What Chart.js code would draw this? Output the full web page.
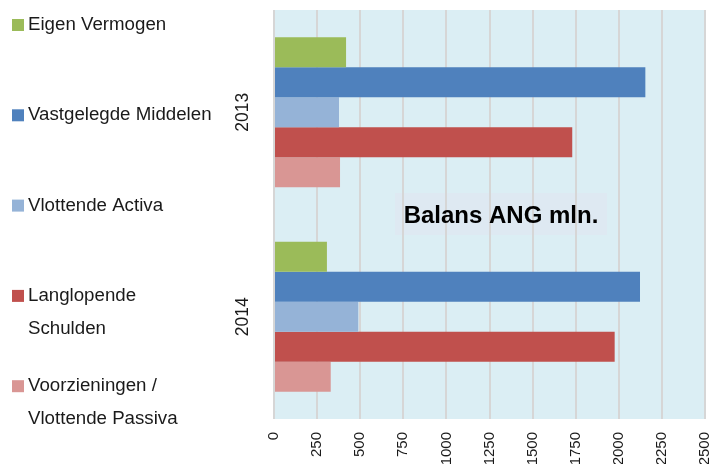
<!DOCTYPE html>
<html>
<head>
<meta charset="utf-8">
<script src="https://cdn.jsdelivr.net/npm/chart.js@4.4.0/dist/chart.umd.min.js"></script>
<style>
  html, body { margin: 0; padding: 0; background: #ffffff; }
  #balansChart { display: block; }
</style>
</head>
<body>
<canvas id="balansChart" width="713" height="464"></canvas>
<script>
const years = ['2013', '2014'];
const seriesNames = ['Eigen Vermogen', 'Vastgelegde Middelen', 'Vlottende Activa', 'Langlopende Schulden', 'Voorzieningen / Vlottende Passiva'];
const legendLines = [['Eigen Vermogen'], ['Vastgelegde Middelen'], ['Vlottende Activa'], ['Langlopende', 'Schulden'], ['Voorzieningen /', 'Vlottende Passiva']];
const eigenVermogen = [418, 307];
const vastgelegdeMiddelen = [2154, 2123];
const vlottendeActiva = [377, 489];
const langlopendeSchulden = [1730, 1976];
const voorzieningen = [383, 329];
const xMin = 0;
const xMax = 2500;
const xStep = 250;
const chartTitle = 'Balans ANG mln.';
const seriesColors = ['#9bbb59', '#4f81bd', '#95b3d7', '#c0504d', '#d99694'];

const seriesValues = [eigenVermogen, vastgelegdeMiddelen, vlottendeActiva, langlopendeSchulden, voorzieningen];
const fontFamily = '"Liberation Sans", Arial, sans-serif';

// plot background + title box behind the bars
const plotBackground = {
  id: 'plotBackground',
  beforeDraw(chart) {
    const { ctx, chartArea } = chart;
    ctx.save();
    ctx.fillStyle = '#dbeef4';
    ctx.fillRect(chartArea.left, chartArea.top, chartArea.right - chartArea.left, chartArea.bottom - chartArea.top);
    ctx.fillStyle = '#dee9f2';
    ctx.fillRect(chartArea.left + 121, chartArea.top + 183, 212, 42);
    ctx.restore();
  },
  afterDraw(chart) {
    const { ctx, chartArea } = chart;
    ctx.save();
    ctx.fillStyle = '#000000';
    ctx.font = 'bold 24px ' + fontFamily;
    ctx.textAlign = 'center';
    ctx.textBaseline = 'middle';
    ctx.fillText(chartTitle, chartArea.left + 227, chartArea.top + 206);
    ctx.restore();
  }
};

// legend on the left, spread out like the original
const sideLegend = {
  id: 'sideLegend',
  afterDraw(chart) {
    const ctx = chart.ctx;
    ctx.save();
    ctx.font = '18.7px ' + fontFamily;
    ctx.textBaseline = 'middle';
    ctx.textAlign = 'left';
    chart.data.datasets.forEach((ds, i) => {
      const y = 25 + i * 90.3;
      ctx.fillStyle = ds.backgroundColor;
      ctx.fillRect(12, y - 6, 12, 12);
      ctx.fillStyle = '#1a1a1a';
      legendLines[i].forEach((line, j) => {
        ctx.fillText(line, 28, y + j * 33);
      });
    });
    ctx.restore();
  }
};

new Chart(document.getElementById('balansChart'), {
  type: 'bar',
  data: {
    labels: years,
    datasets: seriesNames.map((name, i) => ({
      label: name,
      data: seriesValues[i],
      backgroundColor: seriesColors[i],
      borderWidth: 0,
      barPercentage: 1,
      categoryPercentage: 0.733,
    })),
  },
  options: {
    indexAxis: 'y',
    responsive: false,
    animation: false,
    layout: { padding: { top: 10, right: 8, left: 0, bottom: 0 } },
    plugins: {
      legend: { display: false },
      title: { display: false },
      tooltip: { enabled: false },
    },
    scales: {
      x: {
        min: xMin,
        max: xMax,
        ticks: {
          stepSize: xStep,
          minRotation: 90,
          maxRotation: 90,
          padding: 13,
          color: '#1a1a1a',
          font: { family: fontFamily, size: 15 },
          callback: (value) => String(value),
        },
        grid: { color: '#d6d6d6', lineWidth: 2, drawTicks: false },
        border: { display: false },
        afterFit(scale) {
          scale.height = 45;
          scale.paddingLeft = 0;
          scale.paddingRight = 0;
        },
      },
      y: {
        ticks: {
          minRotation: 90,
          maxRotation: 90,
          crossAlign: 'center',
          padding: 11,
          color: '#1a1a1a',
          font: { family: fontFamily, size: 17.5 },
        },
        grid: { display: false, drawTicks: false },
        border: { display: false },
        afterFit(scale) {
          scale.width = 274;
          scale.paddingTop = 0;
          scale.paddingBottom = 0;
        },
      },
    },
  },
  plugins: [plotBackground, sideLegend],
});
</script>
</body>
</html>
